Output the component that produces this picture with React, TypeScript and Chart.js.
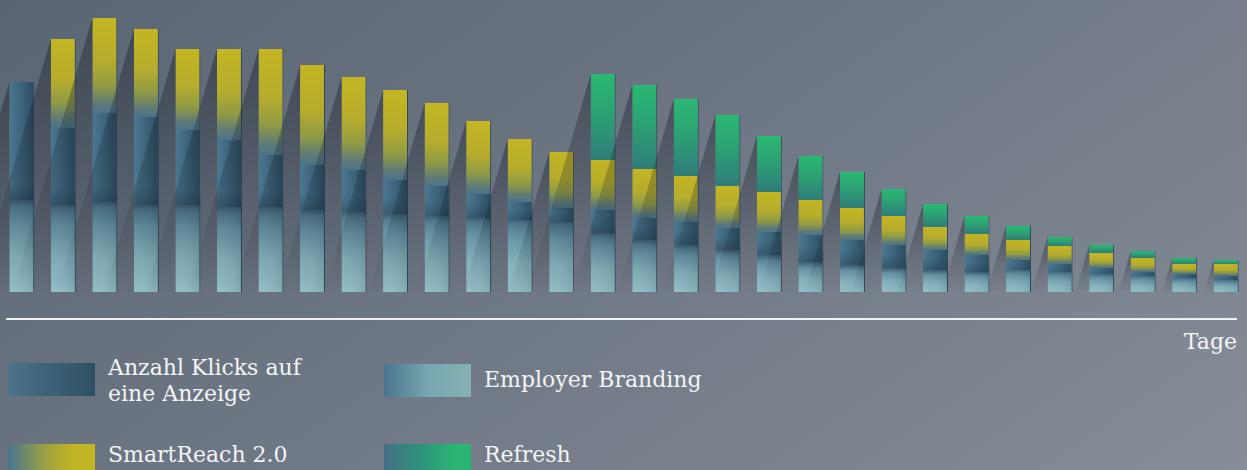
import { useEffect, useRef } from "react";
import { Chart, registerables } from "chart.js";

Chart.register(...registerables);

// Days (x categories)
const DAYS = [
  "1", "2", "3", "4", "5", "6", "7", "8", "9", "10",
  "11", "12", "13", "14", "15", "16", "17", "18", "19", "20",
  "21", "22", "23", "24", "25", "26", "27", "28", "29", "30",
];

// Stacked series (arbitrary click units), bottom to top
const EMPLOYER = [92, 87, 90, 87, 87, 85, 85, 82, 80, 78, 76, 74, 72, 70, 59, 52, 47, 42, 37, 30, 27, 24, 22, 20, 22, 20, 18, 16, 14, 12];
const KLICKS = [118, 77, 89, 88, 75, 67, 52, 45, 42, 34, 30, 24, 18, 14, 23, 22, 23, 22, 23, 27, 25, 23, 20, 17, 10, 8, 6, 4, 4, 4];
const SMART = [0, 89, 95, 88, 81, 91, 106, 100, 93, 90, 83, 73, 63, 56, 50, 49, 46, 42, 40, 35, 32, 29, 23, 21, 20, 18, 15, 14, 10, 12];
const REFRESH = [0, 0, 0, 0, 0, 0, 0, 0, 0, 0, 0, 0, 0, 0, 86, 84, 77, 71, 56, 44, 36, 27, 23, 18, 14, 9, 8, 7, 6, 4];

const SERIES = [EMPLOYER, KLICKS, SMART, REFRESH];
const NAMES = ["Employer Branding", "Anzahl Klicks auf eine Anzeige", "SmartReach 2.0", "Refresh"];
const Y_MAX = 292;
const BAR_FRACTION = 0.6;

type Stop = [number, string];

function segGradient(stops: Stop[], horizontal = false) {
  return (ctx: any) => {
    const fallback = stops[0][1];
    if (ctx.type !== "data") return fallback;
    const chart = ctx.chart;
    const area = chart.chartArea;
    if (!area || !chart.scales.y || !chart.scales.x) return fallback;
    const ds = ctx.datasetIndex;
    const i = ctx.dataIndex;
    let base = 0;
    for (let d = 0; d < ds; d++) base += SERIES[d][i];
    const top = base + SERIES[ds][i];
    const yS = chart.scales.y;
    const y0 = yS.getPixelForValue(top);
    const y1 = yS.getPixelForValue(base);
    let g: CanvasGradient;
    if (horizontal) {
      const cx = chart.scales.x.getPixelForValue(i);
      const w = ((area.right - area.left) / DAYS.length) * BAR_FRACTION;
      g = chart.ctx.createLinearGradient(cx - w / 2, 0, cx + w / 2, 0);
    } else {
      if (y1 - y0 < 0.5) return fallback;
      g = chart.ctx.createLinearGradient(0, y0, 0, y1);
    }
    stops.forEach(([o, c]) => g.addColorStop(o, c));
    return g;
  };
}

const decorPlugin = {
  id: "decor",
  afterDatasetsDraw(chart: any) {
    const ctx: CanvasRenderingContext2D = chart.ctx;
    const area = chart.chartArea;
    const yS = chart.scales.y;
    const meta0 = chart.getDatasetMeta(0);
    ctx.save();
    ctx.beginPath();
    ctx.rect(0, 0, chart.width, area.bottom);
    ctx.clip();

    // darker band at the bottom of the click segment and right-side shading of the lower part
    for (let i = 0; i < DAYS.length; i++) {
      const el = meta0.data[i];
      if (!el) continue;
      const w = el.width;
      const left = el.x - w / 2;
      const yb = yS.getPixelForValue(EMPLOYER[i]);
      const yk = yS.getPixelForValue(EMPLOYER[i] + KLICKS[i]);
      const bh = Math.min(16, (yb - yk) * 0.6);
      const strength = Math.min(1, (yb - yk) / 20);
      if (bh > 1) {
        const band = ctx.createLinearGradient(0, yb - bh, 0, yb + bh * 0.35);
        band.addColorStop(0, "rgba(25,45,60,0)");
        band.addColorStop(0.7, `rgba(25,45,60,${0.32 * strength})`);
        band.addColorStop(1, "rgba(25,45,60,0)");
        ctx.fillStyle = band;
        ctx.fillRect(left, yb - bh, w, bh * 1.35);
      }
      const hs = ctx.createLinearGradient(left, 0, left + w, 0);
      hs.addColorStop(0, "rgba(255,255,255,0.03)");
      hs.addColorStop(1, "rgba(20,40,55,0.12)");
      ctx.fillStyle = hs;
      ctx.fillRect(left, yb, w, area.bottom - yb);
    }

    // diagonal drop shadows falling to the left of each bar
    const slope = 0.293;
    for (let i = 0; i < DAYS.length; i++) {
      const el = meta0.data[i];
      if (!el) continue;
      const left = el.x - el.width / 2;
      const total = EMPLOYER[i] + KLICKS[i] + SMART[i] + REFRESH[i];
      const top = yS.getPixelForValue(total);
      const bottom = area.bottom;
      const g = ctx.createLinearGradient(0, top, 0, bottom);
      g.addColorStop(0, "rgba(22,28,38,0.42)");
      g.addColorStop(0.45, "rgba(22,28,38,0.24)");
      g.addColorStop(1, "rgba(22,28,38,0)");
      ctx.fillStyle = g;
      ctx.beginPath();
      ctx.moveTo(left, top);
      ctx.lineTo(left, bottom);
      ctx.lineTo(left - slope * (bottom - top), bottom);
      ctx.closePath();
      ctx.fill();
    }
    ctx.restore();
  },
};

const TEXT_COLOR = "#f3f4f5";
const FONT = "'DejaVu Serif', serif";

function LegendItem(props: { left: number; top: number; swatch: string; textTop: number; label: string[] }) {
  return (
    <>
      <div
        style={{
          position: "absolute",
          left: props.left,
          top: props.top,
          width: 87,
          height: 33,
          background: props.swatch,
        }}
      />
      <div
        style={{
          position: "absolute",
          left: props.left + 100,
          top: props.textTop,
          fontSize: 22,
          lineHeight: "26px",
          color: TEXT_COLOR,
          whiteSpace: "nowrap",
        }}
      >
        {props.label.map((l, k) => (
          <div key={k}>{l}</div>
        ))}
      </div>
    </>
  );
}

export default function App() {
  const canvasRef = useRef<HTMLCanvasElement | null>(null);

  useEffect(() => {
    if (!canvasRef.current) return;
    const chart = new Chart(canvasRef.current, {
      type: "bar",
      data: {
        labels: DAYS,
        datasets: [
          {
            label: NAMES[0],
            data: EMPLOYER,
            backgroundColor: segGradient([
              [0, "#426a80"],
              [0.25, "#6393a4"],
              [0.6, "#82afba"],
              [1, "#8fbcc4"],
            ]),
          },
          {
            label: NAMES[1],
            data: KLICKS,
            backgroundColor: segGradient(
              [
                [0, "#4b7892"],
                [0.5, "#3c647b"],
                [1, "#2c4d61"],
              ],
              true
            ),
          },
          {
            label: NAMES[2],
            data: SMART,
            backgroundColor: segGradient([
              [0, "#c3b523"],
              [0.45, "#b7ad2c"],
              [0.72, "#8f9a45"],
              [0.9, "#5f7a78"],
              [1, "#4b7389"],
            ]),
          },
          {
            label: NAMES[3],
            data: REFRESH,
            backgroundColor: segGradient([
              [0, "#2ab873"],
              [0.45, "#2ca273"],
              [1, "#2f7c79"],
            ]),
          },
        ],
      },
      options: {
        animation: false,
        responsive: false,
        maintainAspectRatio: false,
        layout: { padding: { left: 1, right: 0, top: 0, bottom: 8 } },
        datasets: {
          bar: {
            barPercentage: BAR_FRACTION,
            categoryPercentage: 1,
            borderWidth: { top: 0, left: 0, bottom: 0, right: 1 },
            borderColor: "rgba(40,66,84,0.9)",
            borderSkipped: false,
          },
        },
        plugins: {
          legend: { display: false },
          tooltip: { enabled: false },
        },
        scales: {
          x: { stacked: true, display: false },
          y: { stacked: true, display: false, min: 0, max: Y_MAX },
        },
      },
      plugins: [decorPlugin],
    });
    return () => chart.destroy();
  }, []);

  return (
    <div
      style={{
        position: "fixed",
        left: 0,
        top: 0,
        width: 1247,
        height: 470,
        overflow: "hidden",
        background: "linear-gradient(146deg, #5a6573 0%, #6f7885 50%, #868d97 100%)",
        fontFamily: FONT,
      }}
    >
      <canvas
        ref={canvasRef}
        width={1247}
        height={300}
        style={{ position: "absolute", left: 0, top: 0, width: 1247, height: 300 }}
      />
      <div style={{ position: "absolute", left: 6, top: 318, width: 1231, height: 2, background: "#eef0f2" }} />
      <div
        style={{
          position: "absolute",
          right: 10,
          top: 329,
          fontSize: 22,
          lineHeight: "26px",
          color: TEXT_COLOR,
        }}
      >
        Tage
      </div>
      <LegendItem
        left={8}
        top={363}
        textTop={355}
        swatch="linear-gradient(90deg, #4b7389 0%, #2e4f63 100%)"
        label={["Anzahl Klicks auf", "eine Anzeige"]}
      />
      <LegendItem
        left={384}
        top={364}
        textTop={367}
        swatch="linear-gradient(90deg, #4a7590 0%, #78a6af 50%, #86b0b5 100%)"
        label={["Employer Branding"]}
      />
      <LegendItem
        left={8}
        top={444}
        textTop={442}
        swatch="linear-gradient(90deg, #4a7590 0%, #9ea33f 45%, #c2b523 75%, #c2b523 100%)"
        label={["SmartReach 2.0"]}
      />
      <LegendItem
        left={384}
        top={444}
        textTop={442}
        swatch="linear-gradient(90deg, #457088 0%, #2f8f7c 40%, #2ab573 80%, #2ab573 100%)"
        label={["Refresh"]}
      />
    </div>
  );
}
